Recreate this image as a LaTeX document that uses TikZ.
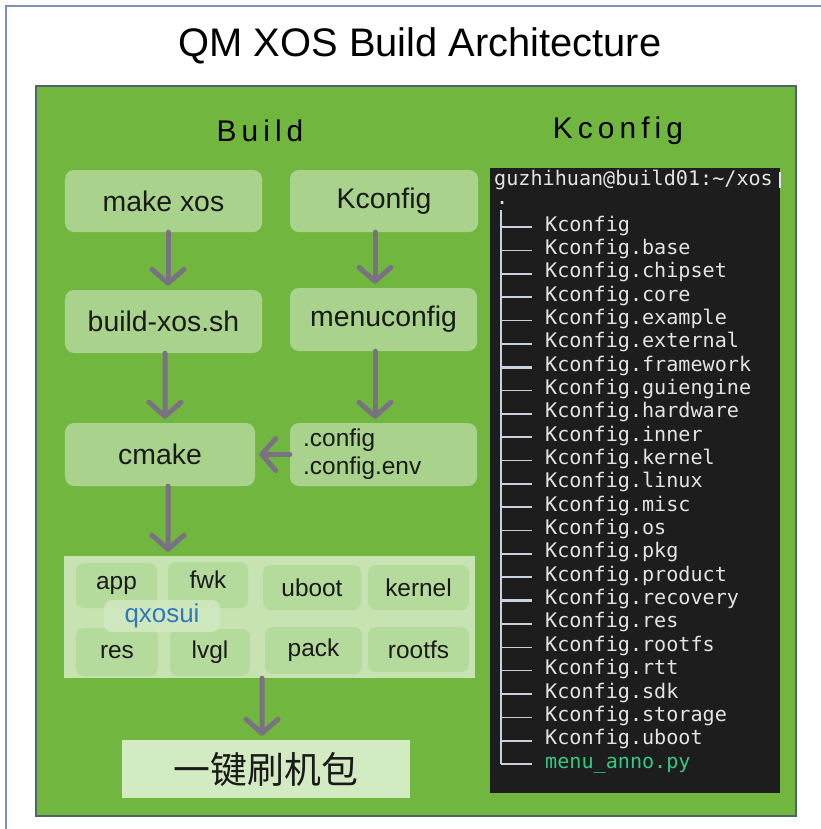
\documentclass[tikz,border=0pt]{standalone}
\usepackage{fontspec}
\setmainfont{Liberation Sans}
\newfontfamily\cjkfont{Noto Sans CJK SC}
\newfontfamily\monofont{DejaVu Sans Mono}
\newfontfamily\spacedfont[LetterSpace=17]{Liberation Sans}
\usetikzlibrary{arrows.meta}
\definecolor{panelgreen}{HTML}{71B73F}
\definecolor{lbox}{HTML}{A9D38C}
\definecolor{contbox}{HTML}{C7E3B2}
\definecolor{innerbox}{HTML}{B4DA9C}
\definecolor{qxbox}{HTML}{D2E9C2}
\definecolor{finalbox}{HTML}{D3EBC3}
\definecolor{arrowgrey}{HTML}{7A7282}
\definecolor{termbg}{HTML}{1D1D1D}
\definecolor{termtext}{HTML}{E4E4E4}
\definecolor{termgreen}{HTML}{35C985}
\definecolor{treeline}{HTML}{C9D1DE}
\definecolor{framecol}{HTML}{7F92B3}
\definecolor{panelborder}{HTML}{4F6470}
\definecolor{qxblue}{HTML}{2F78BA}
\definecolor{darktext}{HTML}{1A1A1A}
\tikzset{
  lightbox/.style={fill=lbox, rounded corners=9bp, inner sep=0pt, text=darktext,
    font=\fontsize{28.5}{30}\selectfont},
  smallbox/.style={fill=innerbox, rounded corners=8bp, inner sep=0pt, text=darktext,
    font=\fontsize{24.5}{26}\selectfont},
  flow/.style={draw=arrowgrey, line width=5bp, line cap=round,
    -{Straight Barb[length=14bp,width=32bp,line cap=round,line join=round]}, shorten >=4bp},
  termline/.style={anchor=west, inner sep=0pt, text=termtext,
    font=\monofont\fontsize{20.2}{22}\selectfont, text height=15bp, text depth=5bp},
  tree/.style={draw=treeline, line width=1.6bp},
}
\begin{document}
\begin{tikzpicture}[x=1bp,y=-1bp]
\useasboundingbox (0,0) rectangle (821,829);
\fill[white] (0,0) rectangle (821,829);
\draw[framecol, line width=1.5bp] (6,829) -- (6,6) -- (821,6);
% title
\node (title) at (420,46) {\fontsize{40}{44}\selectfont QM XOS Build Architecture};
% green panel
\filldraw[fill=panelgreen, draw=panelborder, line width=1.5bp] (36,86) rectangle (796,816);
\node (hbuild) at (260,131) {\spacedfont\fontsize{30}{32}\selectfont Build};
\node (hkconf) at (618,131) {\spacedfont\fontsize{30}{32}\selectfont Kconfig};
% build column
\node[lightbox, minimum width=197bp, minimum height=62bp] (mk) at (163.5,201) {make xos};
\node[lightbox, minimum width=188bp, minimum height=62bp] (kc) at (384,201) {Kconfig};
\node[lightbox, minimum width=197bp, minimum height=63bp] (bx) at (163.5,321.5) {build-xos.sh};
\node[lightbox, minimum width=187bp, minimum height=63bp] (mc) at (383.5,319.5) {menuconfig};
\node[lightbox, minimum width=190bp, minimum height=63bp] (cm) at (160,454.5) {cmake};
\node[lightbox, minimum width=187bp, minimum height=63bp] (cf) at (383.5,454.5) {};
\node[anchor=west, align=left, text=darktext, font=\fontsize{24.5}{28}\selectfont, inner sep=0pt] (cft) at (303,454.5) {.config\\.config.env};
% container
\node[fill=contbox, minimum width=411bp, minimum height=122bp, inner sep=0pt] (ct) at (269.5,617) {};
\node[smallbox, minimum width=81bp, minimum height=45bp] (app) at (116.5,585.5) {app};
\node[smallbox, minimum width=80bp, minimum height=46bp] (fwk) at (208,585) {};
\node[text=darktext, font=\fontsize{24.5}{26}\selectfont] (fwkt) at (208,580) {fwk};
\node[smallbox, minimum width=98bp, minimum height=45bp] (ub) at (312,587.5) {uboot};
\node[smallbox, minimum width=101bp, minimum height=45bp] (kn) at (418.5,587.5) {kernel};
\node[smallbox, minimum width=82bp, minimum height=48bp] (res) at (117,652) {res};
\node[smallbox, minimum width=80bp, minimum height=47bp] (lv) at (210,652.5) {lvgl};
\node[smallbox, minimum width=97bp, minimum height=47bp] (pk) at (313.5,650.5) {pack};
\node[smallbox, minimum width=101bp, minimum height=45bp] (rf) at (418.5,649.5) {rootfs};
\node[fill=qxbox, fill opacity=0.85, text opacity=1, rounded corners=8bp, minimum width=116bp, minimum height=32bp, inner sep=0pt,
  text=qxblue, font=\fontsize{26}{28}\selectfont] (qx) at (162,616) {qxosui};
% final
\node[fill=finalbox, minimum width=288bp, minimum height=58bp, inner sep=0pt, text=darktext,
  font=\cjkfont\fontsize{37}{40}\selectfont] (fin) at (266,769) {一键刷机包};
% arrows
\draw[flow] ([xshift=4.5bp]mk.south) -- ([xshift=4.5bp]bx.north);
\draw[flow] ([xshift=1.5bp]bx.south) -- ([xshift=5bp]cm.north);
\draw[flow] ([xshift=-9bp]kc.south) -- ([xshift=-8.5bp]mc.north);
\draw[flow] ([xshift=-8.5bp]mc.south) -- ([xshift=-8.5bp]cf.north);
\draw[flow] (cf.west) -- (cm.east);
\draw[flow] ([xshift=8bp]cm.south) -- ([xshift=-101.5bp]ct.north);
\draw[flow] ([xshift=-7.5bp]ct.south) -- ([xshift=-4bp]fin.north);
% terminal
\node[fill=termbg, minimum width=290bp, minimum height=625bp, inner sep=0pt] (term) at (635,480.5) {};
\node[termline] (thead) at (494,180) {guzhihuan@build01:\textasciitilde/xos};
\fill[termtext] (779,172) rectangle (781,188);
\node[termline] (tdot) at (496,199) {.};
\foreach \name [count=\i] in {Kconfig,Kconfig.base,Kconfig.chipset,Kconfig.core,Kconfig.example,Kconfig.external,Kconfig.framework,Kconfig.guiengine,Kconfig.hardware,Kconfig.inner,Kconfig.kernel,Kconfig.linux,Kconfig.misc,Kconfig.os,Kconfig.pkg,Kconfig.product,Kconfig.recovery,Kconfig.res,Kconfig.rootfs,Kconfig.rtt,Kconfig.sdk,Kconfig.storage,Kconfig.uboot}{
  \node[termline] (t\i) at (545,{226+23.35*(\i-1)}) {\name};
  \draw[tree] (501,{227+23.35*(\i-1)}) -- ([xshift=-13bp,yshift=-1bp]t\i.west);
}
\draw[tree, line width=3bp] (501,{227+23.35*6}) -- ([xshift=-13bp,yshift=-1bp]t7.west);
\draw[tree, line width=3bp] (501,{227+23.35*16}) -- ([xshift=-13bp,yshift=-1bp]t17.west);
\node[termline, text=termgreen] (t24) at (545,{226+23.35*23}) {menu\_anno.py};
\draw[tree] (501,{227+23.35*23}) -- ([xshift=-13bp,yshift=-1bp]t24.west);
\draw[tree] (501,210) -- (501,{227+23.35*23});
\end{tikzpicture}
\end{document}
